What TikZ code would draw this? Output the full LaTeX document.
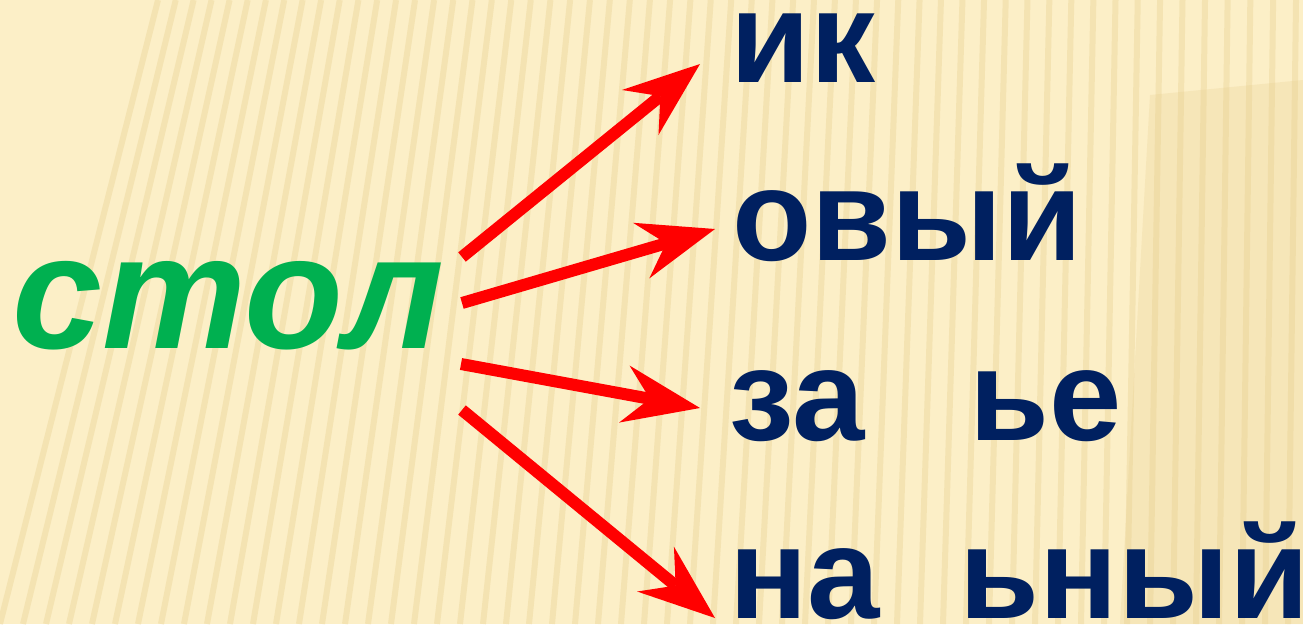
\documentclass[tikz,border=0pt]{standalone}
\usepackage{fontspec}
\setmainfont{Liberation Sans}
\usetikzlibrary{arrows.meta}
\definecolor{bg}{HTML}{FCEFC7}
\definecolor{stripe}{HTML}{E6CD8C}
\definecolor{wordblue}{HTML}{002060}
\definecolor{stemgreen}{HTML}{00B050}
\tikzset{
  stemtext/.style={text=stemgreen, inner sep=0pt, anchor=base west,
    font=\fontsize{162}{162}\selectfont\bfseries\itshape},
  wordtext/.style={text=wordblue, inner sep=0pt, anchor=base west,
    font=\fontsize{130}{130}\selectfont\bfseries},
  redarrow/.style={draw=red, line width=12pt,
    -{Stealth[length=77pt,width=58pt,inset=26pt,line width=0pt]}},
  stripeline/.style={stripe, line width=6pt, opacity=0.35}
}
\begin{document}
\begin{tikzpicture}[x=1pt,y=-1pt]
\fill[bg] (0,0) rectangle (1303,624);
\useasboundingbox (0,0) rectangle (1303,624);
\fill[stripe, opacity=0.25] (1150,95) -- (1303,80) -- (1303,624) -- (1120,624) -- cycle;
\foreach \i in {0,...,56} {
  \pgfmathsetmacro\xb{\i*23}
  \pgfmathsetmacro\xt{\xb+150*(1-\xb/1303)^2+8}
  \draw[stripeline] (\xt,0) -- (\xb,624);
}
\node[stemtext] (stem) at (12,348) {стол};
\node[wordtext] (ik) at (730,82) {ик};
\node[wordtext] (ovyj) at (732,260) {овый};
\node[wordtext] (zae) at (729,440) {за\hspace{105pt}ье};
\node[wordtext] (nany) at (729,618) {на\hspace{80pt}ьный};
\coordinate (s1) at (462,257);
\coordinate (s2) at (462,303);
\coordinate (s3) at (461,364);
\coordinate (s4) at (462,410);
\coordinate (t1) at (700,64);
\coordinate (t2) at (715,229);
\coordinate (t3) at (700,408);
\coordinate (t4) at (715,618);
\draw[redarrow] (s1) -- (t1);
\draw[redarrow] (s2) -- (t2);
\draw[redarrow] (s3) -- (t3);
\draw[redarrow] (s4) -- (t4);
\end{tikzpicture}
\end{document}
